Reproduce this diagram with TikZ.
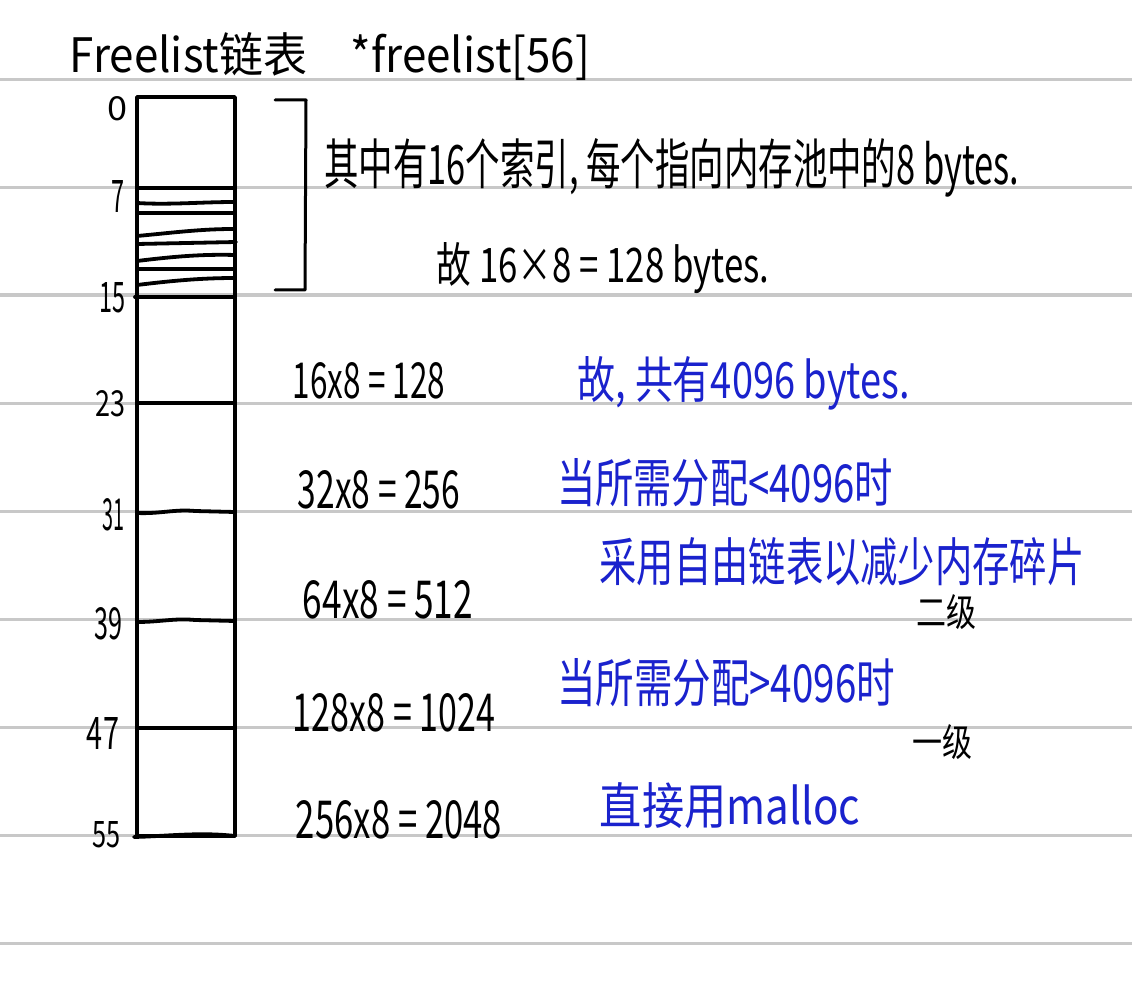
\documentclass[tikz,border=0pt]{standalone}
\usepackage{fontspec}
\setmainfont{Noto Sans CJK SC}
\usepackage{graphicx}
\definecolor{inkblue}{RGB}{26,34,205}
\definecolor{rulegray}{RGB}{200,200,200}
\newcommand\handtxt[3]{\resizebox{#1pt}{#2pt}{#3}}
\begin{document}
\begin{tikzpicture}[x=1pt,y=-1pt,
  rule/.style={draw=rulegray,line width=3pt},
  ink/.style={draw=black,line width=3.8pt,line cap=round,line join=round},
  txt/.style={inner sep=0pt,text=black},
  btxt/.style={inner sep=0pt,text=inkblue}]
\useasboundingbox (0,0) rectangle (1132,1000);
\fill[white] (0,0) rectangle (1132,1000);
% ruled paper
\foreach \yy in {80,188,295,403,511,619,727,835,943}
  \draw[rule] (0,\yy) -- (1132,\yy);
% title
\node[txt] (title) at (330,57) {\handtxt{520}{40}{Freelist链表\quad *freelist[56]}};
% table
\draw[ink] (137,97) rectangle (235,836);
\draw[ink] (137,188) -- (235,188);
\draw[ink] (137,203) .. controls (170,205) and (200,202) .. (235,202);
\draw[ink] (137,213) -- (235,213);
\draw[ink] (137,236) .. controls (170,233) and (200,229) .. (233,229);
\draw[ink] (137,244) -- (236,242);
\draw[ink] (137,261) .. controls (170,257) and (200,254) .. (235,255);
\draw[ink] (137,269) -- (235,269);
\draw[ink] (137,285) .. controls (170,281) and (200,278) .. (235,278);
\draw[ink] (135,297) -- (235,297);
\draw[ink] (137,403) -- (235,403);
\draw[ink] (137,513) .. controls (160,514) and (175,509) .. (195,511) -- (235,512);
\draw[ink] (137,622) .. controls (160,622) and (175,618) .. (195,620) -- (235,621);
\draw[ink] (137,728) -- (235,728);
\draw[ink] (134,837) .. controls (170,836) and (200,832) .. (235,836);
% index labels
\node[txt] (i0)  at (118,109) {\handtxt{20}{24}{0}};
\node[txt] (i7)  at (118,196) {\handtxt{13}{32}{7}};
\node[txt] (i15) at (112,298) {\handtxt{26}{30}{15}};
\node[txt] (i23) at (110,404) {\handtxt{30}{26}{23}};
\node[txt] (i31) at (113,515) {\handtxt{22}{32}{31}};
\node[txt] (i39) at (108,624) {\handtxt{28}{32}{39}};
\node[txt] (i47) at (103,733) {\handtxt{32}{32}{47}};
\node[txt] (i55) at (106,835) {\handtxt{28}{26}{55}};
% bracket
\draw[ink,line width=3pt] (275,100) -- (306,100) -- (305,290) -- (275,290);
% upper notes
\node[txt] (n1) at (672,168) {\handtxt{695}{46}{其中有16个索引, 每个指向内存池中的8 bytes.}};
\node[txt] (n2) at (603,268) {\handtxt{333}{40}{故 16×8 = 128 bytes.}};
% sizes
\node[txt] (s1) at (369,381) {\handtxt{152}{36}{16x8 = 128}};
\node[txt] (s2) at (379,490) {\handtxt{162}{38}{32x8 = 256}};
\node[txt] (s3) at (388,600) {\handtxt{170}{38}{64x8 = 512}};
\node[txt] (s4) at (394,713) {\handtxt{202}{38}{128x8 = 1024}};
\node[txt] (s5) at (399,820) {\handtxt{206}{38}{256x8 = 2048}};
% blue notes
\node[btxt] (b1) at (744,383) {\handtxt{332}{42}{故, 共有4096 bytes.}};
\node[btxt] (b2) at (725,483) {\handtxt{336}{44}{当所需分配<4096时}};
\node[btxt] (b3) at (842,562) {\handtxt{485}{44}{采用自由链表以减少内存碎片}};
\node[txt]  (l2) at (946,612) {\handtxt{60}{32}{二级}};
\node[btxt] (b4) at (726,683) {\handtxt{338}{44}{当所需分配>4096时}};
\node[txt]  (l1) at (942,742) {\handtxt{60}{32}{一级}};
\node[btxt] (b5) at (730,806) {\handtxt{260}{42}{直接用malloc}};
\end{tikzpicture}
\end{document}
